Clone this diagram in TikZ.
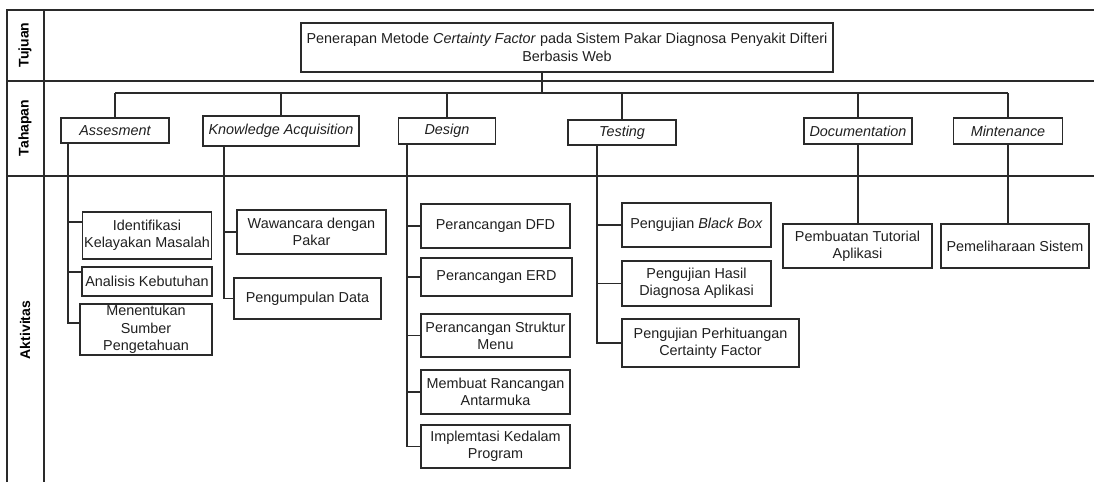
\documentclass[tikz,border=0pt]{standalone}
\usepackage{fontspec}
\setmainfont{Liberation Sans}
\definecolor{lc}{HTML}{2A2A2A}
\begin{document}
\begin{tikzpicture}[x=1pt,y=-1pt,
  every node/.style={font=\fontsize{14.4}{17.3}\selectfont, inner sep=0pt, text=black!88},
  bx/.style={draw=lc, line width=1.2pt, align=center},
  ph/.style={bx, font=\fontsize{14.4}{17.3}\selectfont\itshape},
  lab/.style={rotate=90, font=\fontsize{14}{16}\selectfont\bfseries, text=black},
  frame/.style={draw=lc, line width=1.4pt},
  conn/.style={draw=lc, line width=1.2pt}]
\path[use as bounding box] (0,0) rectangle (1094,482);
% frame
\draw[frame] (7,482) -- (7,10) -- (1094,10);
\draw[frame] (44,10) -- (44,482);
\draw[frame] (7,81) -- (1094,81);
\draw[frame, line width=2.4pt] (7,176) -- (1094,176);
% row labels
\node[lab] (lt) at (25,45) {Tujuan};
\node[lab] (lh) at (25,128) {Tahapan};
\node[lab] (la) at (25,330) {Aktivitas};
% title
\node[bx, minimum width=532, minimum height=49] (title) at (567,47.5)
  {Penerapan Metode \textit{Certainty Factor} pada Sistem Pakar Diagnosa Penyakit Difteri\\Berbasis Web};
% phases
\node[ph, minimum width=108, minimum height=25] (p1) at (115,130.5) {Assesment};
\node[ph, minimum width=156, minimum height=30] (p2) at (281,131) {Knowledge Acquisition};
\node[ph, minimum width=97, minimum height=26] (p3) at (447,131) {Design};
\node[ph, minimum width=108, minimum height=25] (p4) at (622,132.5) {Testing};
\node[ph, minimum width=108, minimum height=26] (p5) at (858,131) {Documentation};
\node[ph, minimum width=109, minimum height=26] (p6) at (1008,131) {Mintenance};
% activities
\node[bx, minimum width=129, minimum height=47] (a1) at (147,235.5) {Identifikasi\\Kelayakan Masalah};
\node[bx, minimum width=130, minimum height=29] (a2) at (147,281.5) {Analisis Kebutuhan};
\node[bx, minimum width=132, minimum height=51] (a3) at (146,329.5) {Menentukan\\Sumber\\Pengetahuan};
\node[bx, minimum width=149, minimum height=44] (k1) at (311.5,232) {Wawancara dengan\\Pakar};
\node[bx, minimum width=147, minimum height=41] (k2) at (307.5,298.5) {Pengumpulan Data};
\node[bx, minimum width=149, minimum height=44] (d1) at (495.5,226) {Perancangan DFD};
\node[bx, minimum width=151, minimum height=38] (d2) at (496.5,277) {Perancangan ERD};
\node[bx, minimum width=149, minimum height=43] (d3) at (495.5,335.5) {Perancangan Struktur\\Menu};
\node[bx, minimum width=149, minimum height=44] (d4) at (495.5,392) {Membuat Rancangan\\Antarmuka};
\node[bx, minimum width=149, minimum height=43] (d5) at (495.5,446.5) {Implemtasi Kedalam\\Program};
\node[bx, minimum width=149, minimum height=44] (t1) at (696.5,225) {Pengujian \textit{Black Box}};
\node[bx, minimum width=149, minimum height=45] (t2) at (696.5,283.5) {Pengujian Hasil\\Diagnosa Aplikasi};
\node[bx, minimum width=177, minimum height=48] (t3) at (710.5,343) {Pengujian Perhituangan\\Certainty Factor};
\node[bx, minimum width=149, minimum height=44] (o1) at (857.5,246) {Pembuatan Tutorial\\Aplikasi};
\node[bx, minimum width=148, minimum height=44] (m1) at (1015,246) {Pemeliharaan Sistem};
% title to bus
\coordinate (tc) at (542,93);
\draw[conn] (title.south -| tc) -- (tc);
\draw[conn] (p1.north |- tc) -- (p6.north |- tc);
\foreach \p in {p1,p2,p3,p4,p5,p6} \draw[conn] (\p.north |- tc) -- (\p.north);
% trunks
\coordinate (ta) at (68,0);
\coordinate (tk) at (224,0);
\coordinate (td) at (407,0);
\coordinate (tt) at (597,0);
\draw[conn] (p1.south -| ta) |- ([yshift=13.5pt]a1.west);
\draw[conn] (p1.south -| ta) |- ([yshift=9.5pt]a2.west);
\draw[conn] (p1.south -| ta) |- ([yshift=6.5pt]a3.west);
\draw[conn] (p2.south -| tk) |- (k1.west);
\draw[conn] (p2.south -| tk) |- (k2.west);
\foreach \c in {d1,d2,d3,d4,d5} \draw[conn] (p3.south -| td) |- (\c.west);
\foreach \c in {t1,t2,t3} \draw[conn] (p4.south -| tt) |- (\c.west);
\draw[conn] (p5.south) -- (p5.south |- o1.north);
\draw[conn] (p6.south) -- (p6.south |- m1.north);
\end{tikzpicture}
\end{document}
